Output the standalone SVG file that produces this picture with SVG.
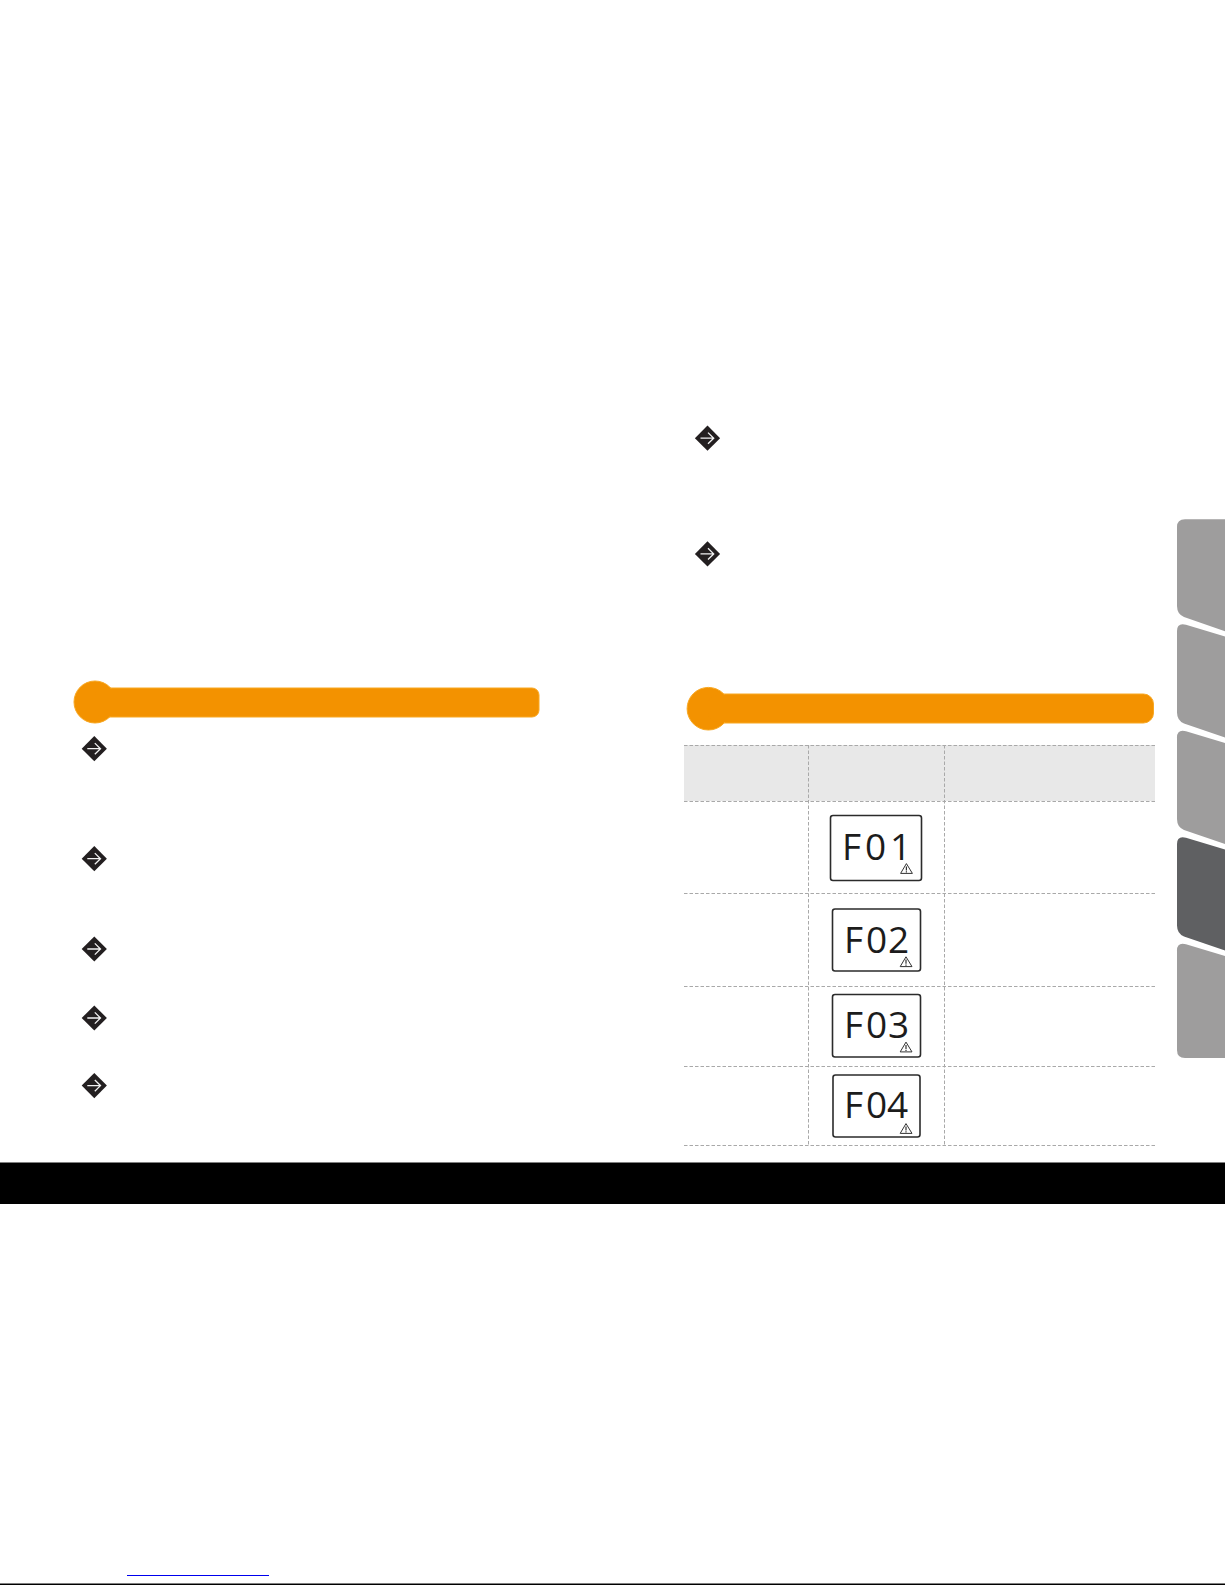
<svg xmlns="http://www.w3.org/2000/svg" xmlns:xlink="http://www.w3.org/1999/xlink" width="1225" height="1585" viewBox="0 0 1225 1585">
<style>
.hb{fill:#f39200;stroke:#f8a823;stroke-width:1}
.hf{fill:#f39200}
.dash{stroke:#a9a9a9;stroke-width:1;stroke-dasharray:3.5 2;fill:none}
.lcd{fill:#fff;stroke:#2b2b2b;stroke-width:1.6}
.seg{font-family:"Open Sans","Liberation Sans",sans-serif;font-weight:400;font-size:37px;fill:#1c1c1c}
.tab{fill:#9e9d9d}
.wt{fill:none;stroke:#333;stroke-width:1;stroke-linejoin:miter}
.wb{stroke:#333;stroke-width:1.2}
</style>
<defs>
<g id="arr">
<path d="M0 -12.6 L12.6 0 L0 12.6 L-12.6 0 Z" fill="#231f20"/>
<path d="M-7 0 H6 M0.5 -5.6 L6.2 0 L0.5 5.6" fill="none" stroke="#f2f2f2" stroke-width="1.3"/>
</g>
<g id="warn">
<path class="wt" d="M6.2 0.6 L12.2 10.4 H0.4 Z"/>
<path class="wb" d="M6.2 3.4 V7.6 M6.2 8.2 V9.6"/>
</g>
</defs>
<rect width="1225" height="1585" fill="#fff"/>

<g id="header-left">
<rect class="hb" x="95" y="688" width="444" height="29" rx="7"/>
<circle class="hb" cx="95" cy="702" r="21"/>
<rect class="hf" x="95" y="689" width="443" height="27" rx="6"/>
</g>
<g id="bullets-left">
<use xlink:href="#arr" href="#arr" x="94.3" y="748.7"/>
<use xlink:href="#arr" href="#arr" x="94.3" y="858.7"/>
<use xlink:href="#arr" href="#arr" x="94.3" y="949"/>
<use xlink:href="#arr" href="#arr" x="94.3" y="1018"/>
<use xlink:href="#arr" href="#arr" x="94.3" y="1085.6"/>
</g>

<g id="bullets-right">
<use xlink:href="#arr" href="#arr" x="707.5" y="438.2"/>
<use xlink:href="#arr" href="#arr" x="707.5" y="553.9"/>
</g>
<g id="header-right">
<rect class="hb" x="708" y="694" width="445.5" height="29" rx="10"/>
<circle class="hb" cx="708.4" cy="708.7" r="21.3"/>
<rect class="hf" x="708" y="695" width="444.5" height="27" rx="9"/>
</g>

<g id="table">
<rect x="684" y="745" width="471" height="56" fill="#e8e8e8"/>
<path class="dash" d="M684 745.5 H1155 M684 801.5 H1155 M684 893.5 H1155 M684 986.5 H1155 M684 1066.5 H1155 M684 1145.5 H1155 M808.5 745 V1145 M944.5 745 V1145"/>
</g>

<g id="lcd-f01">
<rect class="lcd" x="830.5" y="815.5" width="91" height="65" rx="2.5"/>
<text class="seg" x="842 865 890" y="859.5">F01</text>
<use xlink:href="#warn" href="#warn" x="900.2" y="863"/>
</g>
<g id="lcd-f02">
<rect class="lcd" x="832.5" y="909" width="88" height="62" rx="2.5"/>
<text class="seg" x="844 866 888" y="953">F02</text>
<use xlink:href="#warn" href="#warn" x="899.8" y="956.2"/>
</g>
<g id="lcd-f03">
<rect class="lcd" x="832.5" y="994.5" width="88" height="62.5" rx="2.5"/>
<text class="seg" x="844 866 888" y="1038">F03</text>
<use xlink:href="#warn" href="#warn" x="899.8" y="1041.5"/>
</g>
<g id="lcd-f04">
<rect class="lcd" x="833" y="1075" width="87" height="62" rx="2.5"/>
<text class="seg" x="844 866 887" y="1117.5">F04</text>
<use xlink:href="#warn" href="#warn" x="899.8" y="1123"/>
</g>

<g id="tabs">
<path class="tab" d="M1225 519.3 H1185 Q1177 519.3 1177 527 V606 Q1177 614 1184 617 L1225 631.2 Z"/>
<path class="tab" d="M1225 636.5 L1186 624.8 Q1177 622.5 1177 631 V712.5 Q1177 720.5 1184 723.5 L1225 737.5 Z"/>
<path class="tab" d="M1225 743 L1186 731.3 Q1177 729 1177 737.5 V819 Q1177 827 1184 830 L1225 844 Z"/>
<path fill="#5f6062" d="M1225 849.5 L1186 837.8 Q1177 835.5 1177 844 V925.5 Q1177 933.5 1184 936.5 L1225 950.5 Z"/>
<path class="tab" d="M1225 956 L1186 944.3 Q1177 942 1177 950.5 V1050 Q1177 1058 1185 1058 H1225 Z"/>
</g>

<rect id="footer-band" x="0" y="1162.5" width="1225" height="41.5" fill="#000"/>
<rect id="link-underline" x="127" y="1575" width="142" height="1" fill="#0000ee"/>
<rect id="page-rule" x="0" y="1583.5" width="1225" height="1.5" fill="#000"/>
</svg>
